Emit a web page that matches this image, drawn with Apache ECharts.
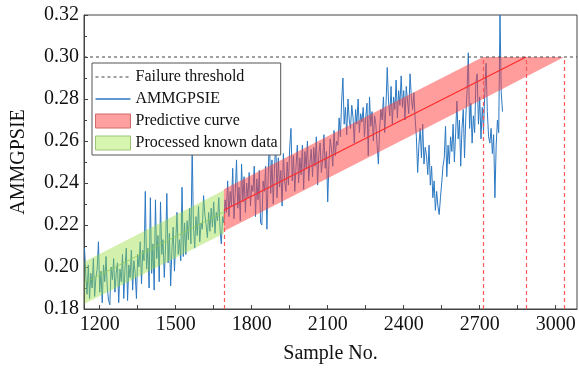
<!DOCTYPE html>
<html>
<head>
<meta charset="utf-8">
<script src="https://cdn.jsdelivr.net/npm/echarts@6/dist/echarts.min.js"></script>
<style>html,body{margin:0;padding:0;background:#fff}#c{width:579px;height:369px}</style>
</head>
<body>
<div id="c"></div>
<script>
// ---- data ----
const sampleStart = 1140;
const sampleStep = 5;
const ammgpsie = [
0.209,0.196,0.187,0.201,0.185,0.197,0.190,0.204,0.186,0.195,
0.199,0.212,0.188,0.198,0.183,0.201,0.193,0.205,0.190,0.184,
0.182,0.200,0.194,0.204,0.188,0.197,0.202,0.183,0.199,0.193,
0.206,0.185,0.200,0.209,0.184,0.201,0.195,0.208,0.189,0.203,
0.197,0.185,0.206,0.200,0.212,0.192,0.208,0.203,0.236,0.199,
0.209,0.190,0.233,0.197,0.211,0.189,0.232,0.204,0.215,0.193,
0.231,0.206,0.213,0.195,0.210,0.235,0.202,0.216,0.191,0.208,
0.219,0.198,0.212,0.226,0.206,0.213,0.203,0.238,0.205,0.221,
0.206,0.222,0.213,0.228,0.211,0.257,0.219,0.209,0.224,0.215,
0.229,0.212,0.221,0.218,0.234,0.225,0.220,0.214,0.226,0.217,
0.228,0.219,0.231,0.216,0.226,0.222,0.233,0.218,0.211,0.224,
0.221,0.232,0.226,0.241,0.224,0.236,0.229,0.247,0.223,0.235,
0.251,0.228,0.238,0.222,0.249,0.231,0.243,0.226,0.240,0.233,
0.245,0.229,0.239,0.236,0.248,0.224,0.242,0.232,0.246,0.221,
0.220,0.241,0.236,0.248,0.218,0.244,0.262,0.235,0.251,0.230,
0.247,0.260,0.233,0.252,0.238,0.246,0.229,0.254,0.241,0.236,
0.250,0.239,0.257,0.266,0.241,0.253,0.236,0.248,0.258,0.240,
0.252,0.244,0.258,0.237,0.255,0.247,0.260,0.241,0.250,0.256,
0.243,0.257,0.248,0.262,0.239,0.254,0.259,0.245,0.251,0.263,
0.247,0.255,0.231,0.250,0.261,0.256,0.248,0.265,0.253,0.260,
0.258,0.271,0.262,0.279,0.290,0.268,0.276,0.263,0.280,0.270,
0.266,0.277,0.271,0.259,0.275,0.268,0.280,0.264,0.273,0.269,
0.276,0.262,0.271,0.278,0.253,0.281,0.267,0.274,0.260,0.272,
0.268,0.258,0.249,0.266,0.275,0.270,0.281,0.264,0.277,0.295,
0.279,0.272,0.286,0.268,0.281,0.275,0.289,0.271,0.284,0.277,
0.291,0.276,0.284,0.270,0.286,0.279,0.273,0.292,0.281,0.275,
0.283,0.271,0.262,0.245,0.258,0.266,0.252,0.268,0.249,0.257,
0.253,0.244,0.258,0.239,0.248,0.233,0.241,0.227,0.236,0.229,
0.225,0.233,0.240,0.248,0.252,0.267,0.243,0.258,0.249,0.262,
0.255,0.268,0.250,0.264,0.279,0.261,0.270,0.248,0.266,0.275,
0.252,0.271,0.284,0.302,0.266,0.278,0.259,0.272,0.264,0.288,
0.292,0.268,0.281,0.261,0.276,0.265,0.283,0.297,0.274,0.262,
0.259,0.266,0.254,0.263,0.233,0.258,0.270,0.264,0.320,0.283,
0.274
];
const knownBandX = [1140, 1690];
const knownBandLow = [0.1825, 0.2160];
const knownBandHigh = [0.2025, 0.2365];
const knownFitY = [0.1925, 0.2262];
const predBandX = [1690, 2713, 3033];
const predBandLow = [0.2170, 0.2800, 0.3000];
const predBandHigh = [0.2370, 0.3000, 0.3000];
const predCurveX = [1690, 2883];
const predCurveY = [0.227, 0.300];
const thresholdY = 0.30;
const rulX = [1690, 2713, 2883, 3033];
const rulTop = [0.227, 0.300, 0.300, 0.300];
const xMin = 1138, xMax = 3084;
const xLabels = [1200, 1500, 1800, 2100, 2400, 2700, 3000];
const xTicks = [1200, 1350, 1500, 1650, 1800, 1950, 2100, 2250, 2400, 2550, 2700, 2850, 3000];
const yMin = 0.18, yMax = 0.32, yStep = 0.02;

// ---- chart ----
const FONT = 'Liberation Serif';
const blueData = ammgpsie.map((v, i) => [sampleStart + i * sampleStep, v]);

// legend glyphs (35 x 14 box, thin strip in the middle)
const specks = 'M0,0h0.01v0.01h-0.01z M34.99,13.99h0.01v0.01h-0.01z ';
let dashIcon = 'path://' + specks;
for (let x = 0; x < 35; x += 6) dashIcon += 'M' + x + ',6.5h3v1h-3z ';
const solidIcon = 'path://' + specks + 'M0,6.3h35v1.4h-35z';

function bandRender(xs, lo, hi, fill) {
  return function (params, api) {
    if (params.dataIndex !== 0) return null;
    const pts = [];
    for (let i = 0; i < xs.length; i++) pts.push(api.coord([xs[i], lo[i]]));
    for (let i = xs.length - 1; i >= 0; i--) pts.push(api.coord([xs[i], hi[i]]));
    return { type: 'polygon', shape: { points: pts }, style: { fill: fill, stroke: null } };
  };
}

const chart = echarts.init(document.getElementById('c'), null, { renderer: 'canvas' });
chart.setOption({
  animation: false,
  backgroundColor: '#fff',
  grid: { left: 84, right: 2, top: 15, bottom: 59, show: true, borderColor: '#444', borderWidth: 1, backgroundColor: 'transparent' },
  legend: {
    orient: 'vertical', left: 92, top: 63,
    padding: [6, 3, 4, 3],
    itemWidth: 35, itemHeight: 14, itemGap: 6,
    backgroundColor: '#fff', borderColor: '#555', borderWidth: 1, borderRadius: 0,
    textStyle: { fontFamily: FONT, fontSize: 16, color: '#111' },
    data: [
      { name: 'Failure threshold', icon: dashIcon, itemStyle: { color: '#444', borderWidth: 0 } },
      { name: 'AMMGPSIE', icon: solidIcon, itemStyle: { color: '#2c79c2', borderWidth: 0 } },
      { name: 'Predictive curve', icon: 'rect', itemStyle: { color: '#ffa0a0', borderColor: '#d06a6a', borderWidth: 1 } },
      { name: 'Processed known data', icon: 'rect', itemStyle: { color: '#d8f5b0', borderColor: '#9cc478', borderWidth: 1 } }
    ]
  },
  xAxis: {
    type: 'value', min: xMin, max: xMax,
    name: 'Sample No.', nameLocation: 'middle', nameGap: 35,
    nameTextStyle: { fontFamily: FONT, fontSize: 20, color: '#111' },
    axisLine: { show: true, lineStyle: { color: '#444', width: 1 } },
    axisTick: { show: true, inside: true, length: 4, customValues: xTicks, lineStyle: { color: '#444' } },
    axisLabel: { customValues: xLabels, fontFamily: FONT, fontSize: 20, color: '#111', margin: 6, formatter: v => String(Math.round(v)) },
    splitLine: { show: false }
  },
  yAxis: {
    type: 'value', min: yMin, max: yMax, interval: yStep,
    name: 'AMMGPSIE', nameLocation: 'middle', nameGap: 55, nameRotate: 90,
    nameTextStyle: { fontFamily: FONT, fontSize: 20, color: '#111' },
    axisLine: { show: true, lineStyle: { color: '#444', width: 1 } },
    axisTick: { show: true, inside: true, length: 4, lineStyle: { color: '#444' } },
    minorTick: { show: true, splitNumber: 2, length: 3, lineStyle: { color: '#444' } },
    axisLabel: { fontFamily: FONT, fontSize: 20, color: '#111', margin: 5, formatter: v => v.toFixed(2) },
    splitLine: { show: false }
  },
  series: [
    {
      name: 'AMMGPSIE', type: 'line', data: blueData, showSymbol: false, symbol: 'none', z: 2,
      lineStyle: { color: '#2c79c2', width: 1 }, itemStyle: { color: '#2c79c2' }
    },
    {
      name: 'Processed known data', type: 'custom', z: 3,
      itemStyle: { color: '#d8f5b0' },
      data: knownBandX.map((x, i) => [x, knownBandLow[i], knownBandHigh[i]]),
      encode: { x: 0, y: [1, 2] },
      renderItem: bandRender(knownBandX, knownBandLow, knownBandHigh, 'rgba(150,222,60,0.42)')
    },
    {
      name: 'knownFit', type: 'line', z: 4, showSymbol: false, symbol: 'none',
      data: knownBandX.map((x, i) => [x, knownFitY[i]]),
      lineStyle: { color: 'rgba(140,205,90,0.8)', width: 1 }
    },
    {
      name: 'Predictive curve', type: 'custom', z: 3,
      itemStyle: { color: '#ffa0a0' },
      data: predBandX.map((x, i) => [x, predBandLow[i], predBandHigh[i]]),
      encode: { x: 0, y: [1, 2] },
      renderItem: bandRender(predBandX, predBandLow, predBandHigh, 'rgba(255,60,60,0.5)')
    },
    {
      name: 'predCenter', type: 'line', z: 5, showSymbol: false, symbol: 'none',
      data: predCurveX.map((x, i) => [x, predCurveY[i]]),
      lineStyle: { color: '#ff2a2a', width: 1.2 },
      markLine: {
        silent: true, symbol: 'none', label: { show: false },
        lineStyle: { color: '#ff5a5a', type: [4, 3], width: 1.2 },
        data: rulX.map((x, i) => [{ coord: [x, yMin] }, { coord: [x, rulTop[i]] }])
      }
    },
    {
      name: 'Failure threshold', type: 'line', z: 5, showSymbol: false, symbol: 'none',
      data: [[xMin, thresholdY], [xMax, thresholdY]],
      lineStyle: { color: '#444', type: [3, 3], width: 1 }, itemStyle: { color: '#444' }
    }
  ]
});
</script>
</body>
</html>
